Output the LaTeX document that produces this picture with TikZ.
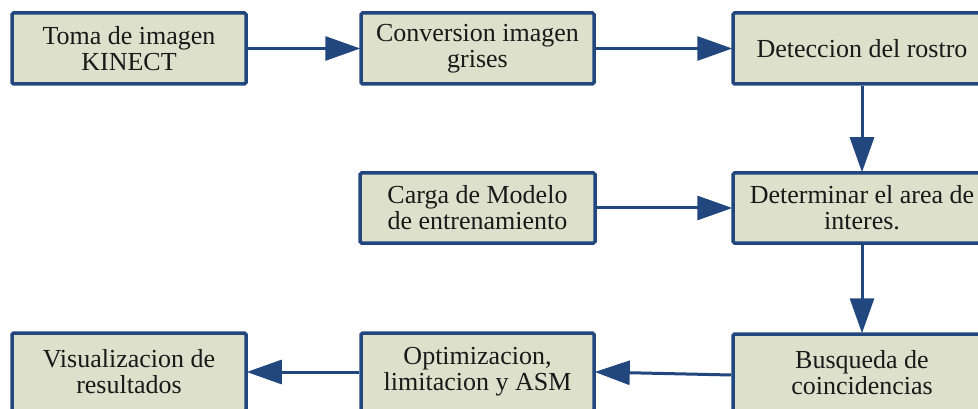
\documentclass[tikz,border=0pt]{standalone}
\usepackage{fontspec}
\setmainfont{Liberation Serif}
\usetikzlibrary{arrows.meta,calc}
\definecolor{boxfill}{RGB}{221,225,203}
\definecolor{boxline}{RGB}{33,71,126}
\tikzset{
  stepbox/.style={draw=boxline, line width=3.5pt, fill=boxfill, rounded corners=1.5pt,
    inner sep=0pt, align=center, font=\fontsize{26}{26}\selectfont, text=black!90},
  flow/.style={draw=boxline, line width=3pt,
    -{Triangle[length=35pt,width=24pt]}, shorten >=-1pt},
}
\begin{document}
\begin{tikzpicture}[x=1pt,y=-1pt]
  \useasboundingbox (0,0) rectangle (978,409);
  \clip (0,0) rectangle (978,409);

  % top row
  \node[stepbox, minimum width=234pt, minimum height=71pt] (b1) at (129,48.5) {Toma de imagen\\KINECT};
  \node[stepbox, minimum width=233pt, minimum height=71pt] (b2) at (477.5,48.5) {Conversion imagen\\grises};
  \node[stepbox, minimum width=258pt, minimum height=71pt] (b3) at (862,48.5) {Deteccion del rostro};

  % middle row
  \node[stepbox, minimum width=235pt, minimum height=70pt] (b4) at (477.5,208) {Carga de Modelo\\de entrenamiento};
  \node[stepbox, minimum width=258pt, minimum height=70pt] (b5) at (862,208) {Determinar el area de\\interes.};

  % bottom row
  \node[stepbox, minimum width=234pt, minimum height=78pt] (b6) at (129,372) {Visualizacion de\\resultados};
  \node[stepbox, minimum width=233pt, minimum height=78pt] (b7) at (477.5,372) {Optimizacion,\\limitacion y ASM};
  \node[stepbox, minimum width=258pt, minimum height=78pt] (b8) at (862,373) {Busqueda de\\coincidencias};

  % connectors
  \draw[flow] (b1) -- (b2);
  \draw[flow] (b2) -- (b3);
  \draw[flow] (b3) -- (b5);
  \draw[flow] (b4) -- (b5);
  \draw[flow] (b5) -- (b8);
  \coordinate (b8in) at ($(b8.west)+(0,2)$);
  \draw[flow] (b8in) -- (b7.east);
  \draw[flow] (b7) -- (b6);
\end{tikzpicture}
\end{document}
